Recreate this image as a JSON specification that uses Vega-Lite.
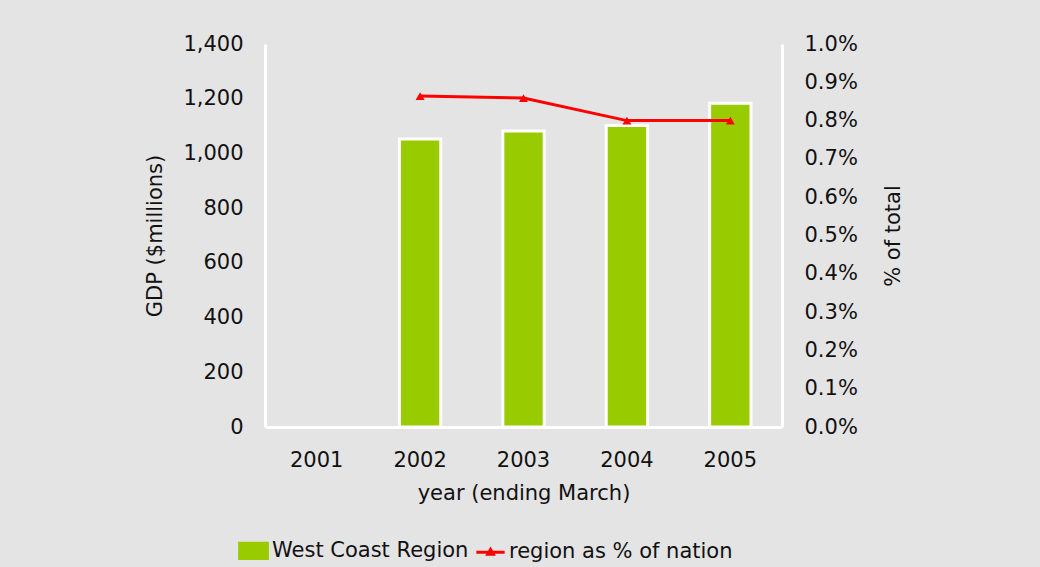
{
  "$schema": "https://vega.github.io/schema/vega-lite/v6.json",
  "autosize": {"type": "none"},
  "width": 517,
  "height": 383,
  "padding": {"left": 265, "top": 44, "right": 258, "bottom": 140},
  "background": "#e4e4e4",
  "title": {
    "text": "Output of the West Coast Region",
    "color": "#99cc00",
    "fontSize": 27,
    "fontWeight": "bold",
    "font": "DejaVu Sans",
    "anchor": "middle",
    "baseline": "alphabetic",
    "offset": 31
  },
  "data": {
    "values": [
      {"year": "2001", "gdp": null, "pct": null},
      {"year": "2002", "gdp": 1053, "pct": 0.00864},
      {"year": "2003", "gdp": 1082, "pct": 0.00859},
      {"year": "2004", "gdp": 1102, "pct": 0.0080},
      {"year": "2005", "gdp": 1183, "pct": 0.0080}
    ]
  },
  "encoding": {
    "x": {
      "field": "year",
      "type": "ordinal",
      "scale": {"paddingInner": 0.6, "paddingOuter": 0.3},
      "axis": {
        "title": "year (ending March)",
        "labelAngle": 0,
        "labelPadding": 22,
        "titlePadding": 12,
        "ticks": false,
        "domainColor": "white",
        "domainWidth": 3
      }
    }
  },
  "layer": [
    {
      "mark": {"type": "bar", "stroke": "white", "strokeWidth": 3},
      "encoding": {
        "y": {
          "field": "gdp",
          "type": "quantitative",
          "scale": {"domain": [0, 1400], "nice": false},
          "axis": {
            "title": "GDP ($millions)",
            "values": [0, 200, 400, 600, 800, 1000, 1200, 1400],
            "format": ",.0f",
            "grid": false,
            "ticks": false,
            "labelPadding": 22,
            "titlePadding": 17,
            "domainColor": "white",
            "domainWidth": 3
          }
        },
        "color": {
          "datum": "West Coast Region",
          "type": "nominal",
          "scale": {"domain": ["West Coast Region", "region as % of nation"], "range": ["#99cc00", "#ff0000"]},
          "legend": {
            "title": null,
            "orient": "none",
            "direction": "horizontal",
            "legendX": -22,
            "legendY": 496,
            "symbolSize": 800,
            "labelOffset": 8,
            "labelLimit": 0,
            "columnPadding": 1,
            "encode": {
              "symbols": {
                "update": {
                  "shape": {"signal": "datum.value === 'West Coast Region' ? 'M-1,-0.55H1V0.55H-1Z' : 'M-1,0H1M-0.2,0.15L0,-0.2L0.2,0.15Z'"},
                  "stroke": {"signal": "datum.value === 'West Coast Region' ? 'white' : '#ff0000'"},
                  "fill": {"signal": "datum.value === 'West Coast Region' ? '#99cc00' : '#ff0000'"},
                  "strokeWidth": {"signal": "datum.value === 'West Coast Region' ? 2.5 : 3"},
                  "opacity": {"value": 1}
                }
              }
            }
          }
        }
      }
    },
    {
      "mark": {"type": "line", "strokeWidth": 3, "color": "#ff0000", "point": {"shape": "triangle-up", "size": 80, "filled": true, "color": "#ff0000"}},
      "encoding": {
        "y": {
          "field": "pct",
          "type": "quantitative",
          "scale": {"domain": [0, 0.01], "nice": false},
          "axis": {
            "title": "% of total",
            "orient": "right",
            "values": [0, 0.001, 0.002, 0.003, 0.004, 0.005, 0.006, 0.007, 0.008, 0.009, 0.01],
            "format": ".1%",
            "grid": false,
            "ticks": false,
            "labelPadding": 22,
            "titlePadding": 25,
            "titleAngle": 270,
            "titleBaseline": "top",
            "domainColor": "white",
            "domainWidth": 3
          }
        },
        "color": {
          "datum": "region as % of nation",
          "type": "nominal",
          "legend": {
            "title": null,
            "orient": "none",
            "direction": "horizontal",
            "legendX": -22,
            "legendY": 496,
            "symbolSize": 800,
            "labelOffset": 8,
            "labelLimit": 0,
            "columnPadding": 1,
            "encode": {
              "symbols": {
                "update": {
                  "shape": {"signal": "datum.value === 'West Coast Region' ? 'M-1,-0.55H1V0.55H-1Z' : 'M-1,0H1M-0.2,0.15L0,-0.2L0.2,0.15Z'"},
                  "stroke": {"signal": "datum.value === 'West Coast Region' ? 'white' : '#ff0000'"},
                  "fill": {"signal": "datum.value === 'West Coast Region' ? '#99cc00' : '#ff0000'"},
                  "strokeWidth": {"signal": "datum.value === 'West Coast Region' ? 2.5 : 3"},
                  "opacity": {"value": 1}
                }
              }
            }
          }
        }
      }
    }
  ],
  "resolve": {"scale": {"y": "independent"}},
  "config": {
    "font": "DejaVu Sans",
    "view": {"stroke": null},
    "axis": {
      "labelFont": "DejaVu Sans",
      "titleFont": "DejaVu Sans",
      "labelFontSize": 21,
      "titleFontSize": 21,
      "titleFontWeight": "normal",
      "labelColor": "#111111",
      "titleColor": "#111111"
    },
    "legend": {
      "labelFont": "DejaVu Sans",
      "labelFontSize": 21,
      "labelColor": "#111111"
    }
  }
}
